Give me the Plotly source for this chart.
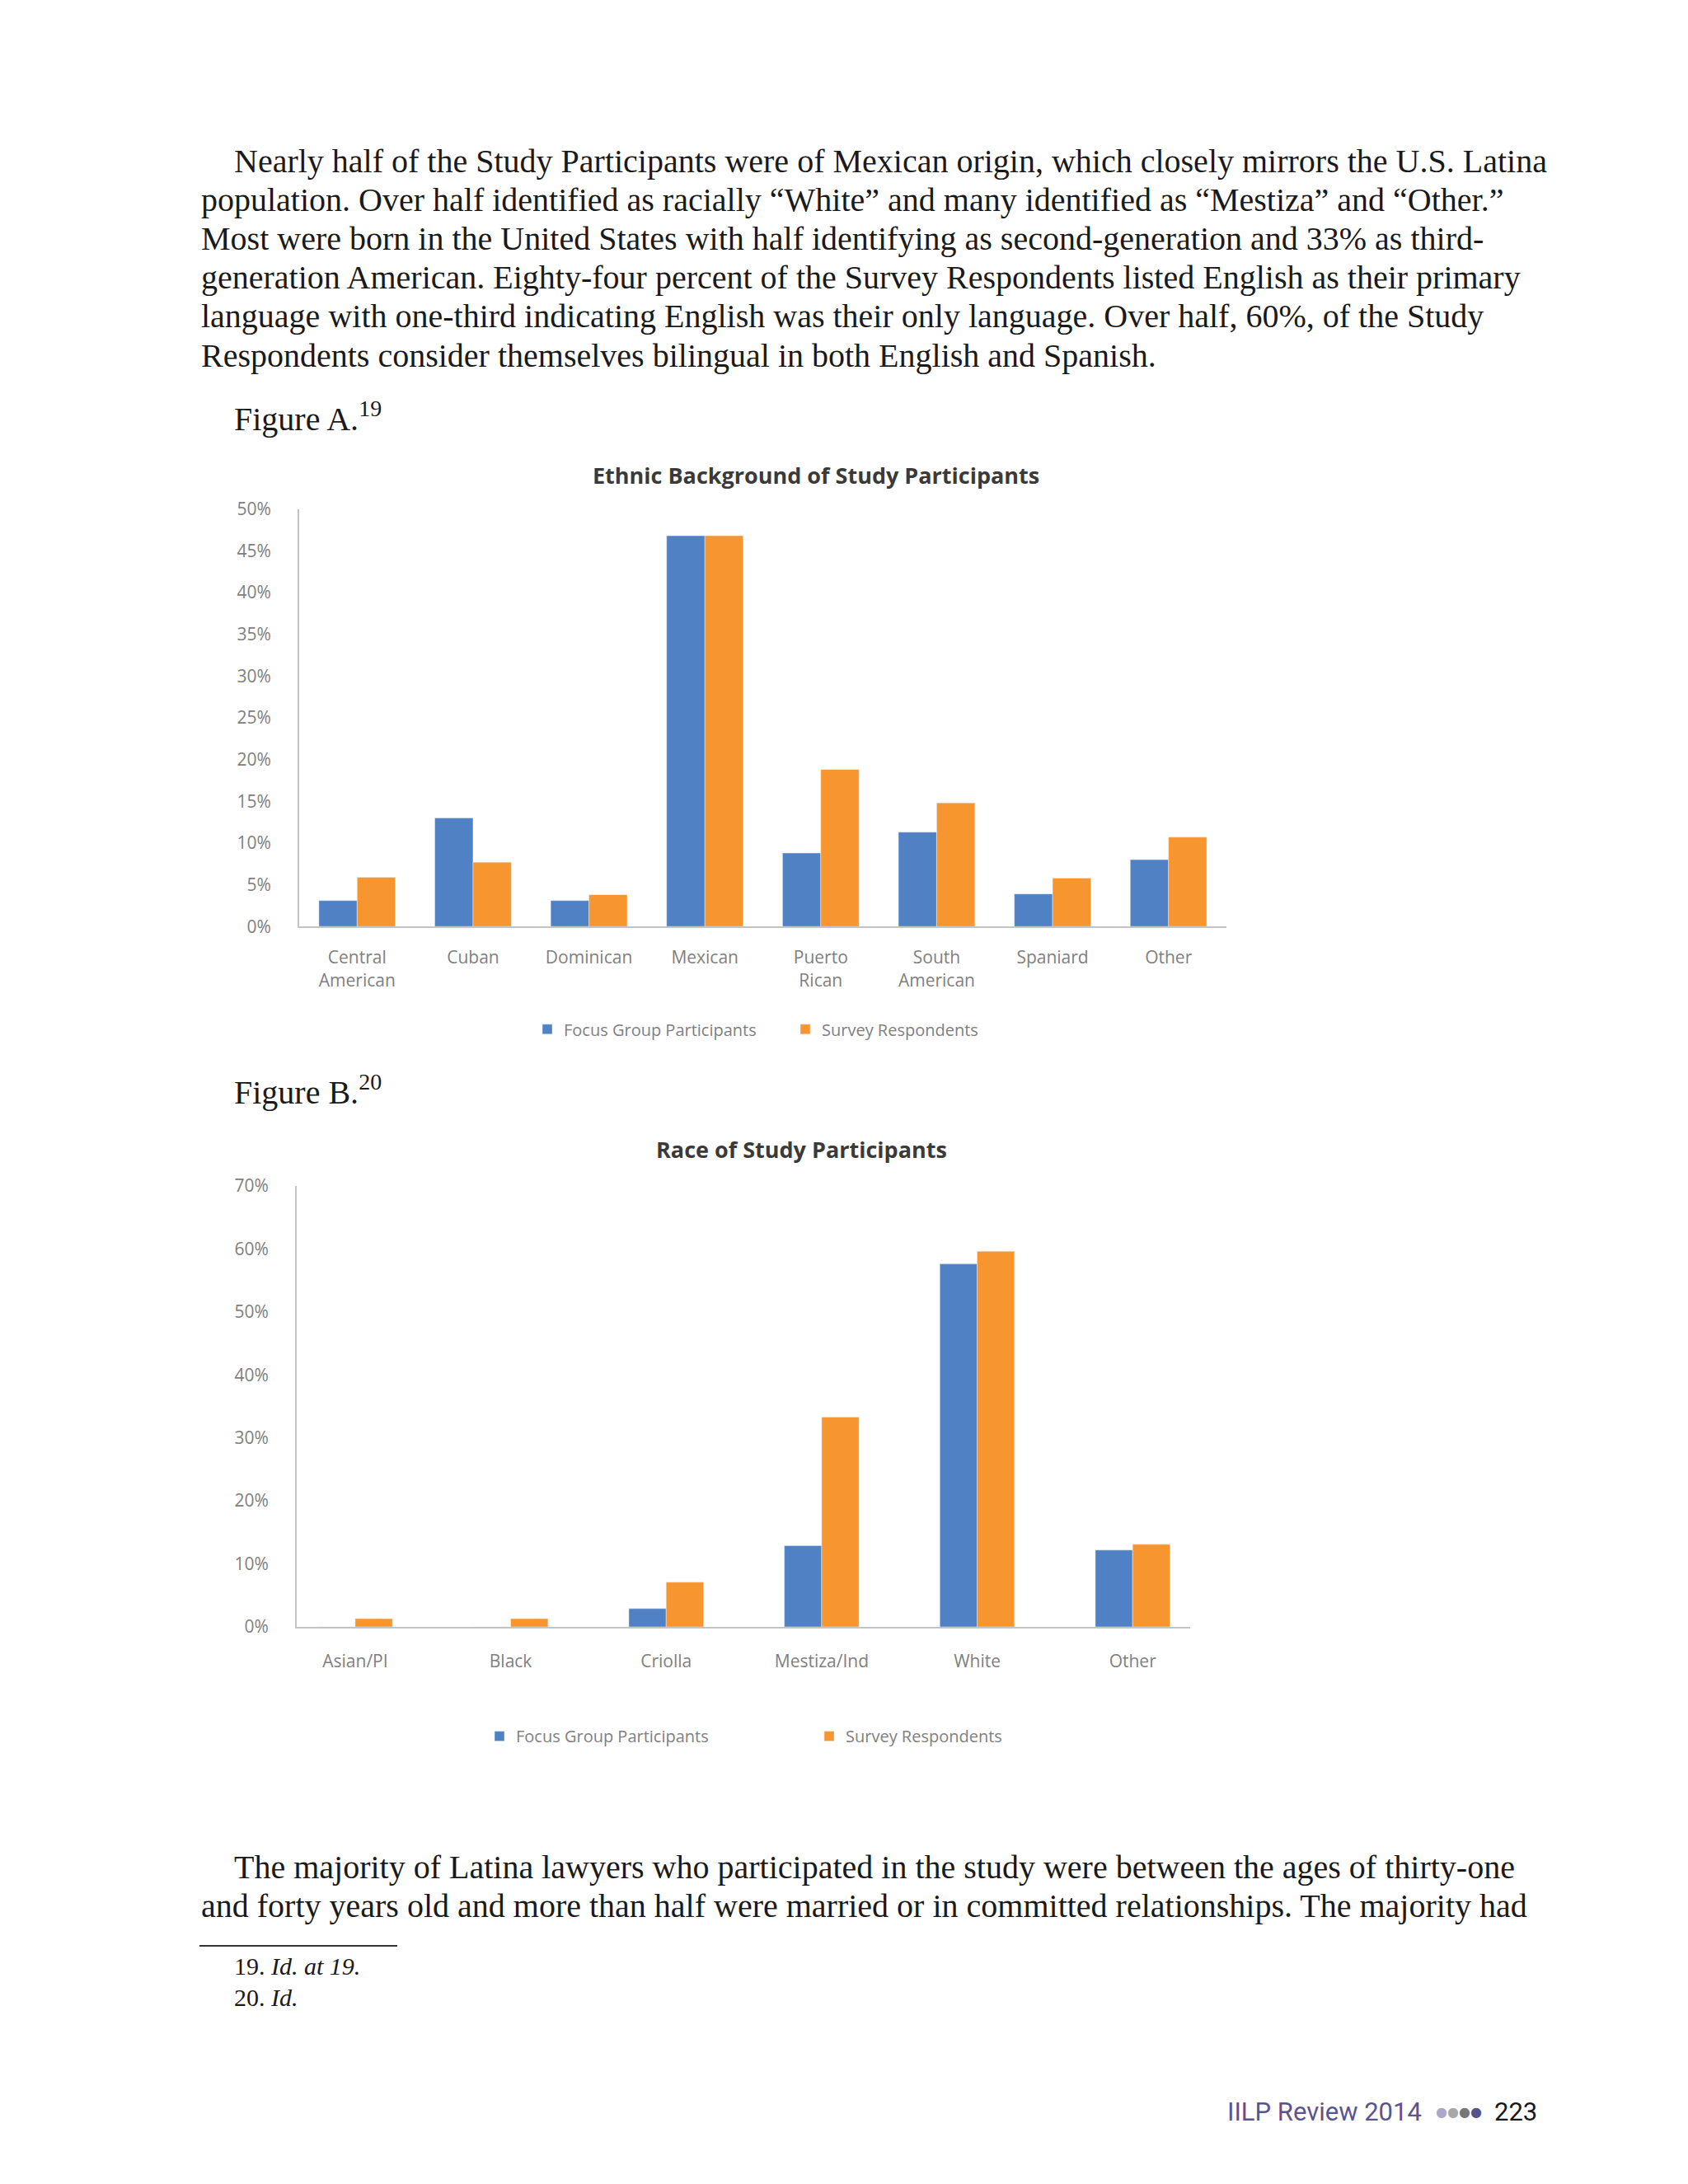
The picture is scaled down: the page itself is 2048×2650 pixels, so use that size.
import plotly.graph_objects as go

# page size (reference) and figure size (page minus the 8px default body margin on each side)
PAGE_W, PAGE_H = 2048, 2650
OFF = 8
W, H = PAGE_W - 2 * OFF, PAGE_H - 2 * OFF

# ---------------- data ----------------
eth_categories = ["Central<br>American", "Cuban", "Dominican", "Mexican", "Puerto<br>Rican",
                  "South<br>American", "Spaniard", "Other"]
eth_focus = [3.1, 13.0, 3.1, 46.8, 8.8, 11.3, 3.9, 8.0]
eth_survey = [5.9, 7.7, 3.8, 46.8, 18.8, 14.8, 5.8, 10.7]

race_categories = ["Asian/PI", "Black", "Criolla", "Mestiza/Ind", "White", "Other"]
race_focus = [0.0, 0.0, 2.9, 12.9, 57.6, 12.2]
race_survey = [1.3, 1.3, 7.1, 33.3, 59.6, 13.1]

eth_ticks = [0, 5, 10, 15, 20, 25, 30, 35, 40, 45, 50]
eth_ticktext = [f"{v}%" for v in eth_ticks]
race_ticks = [0, 10, 20, 30, 40, 50, 60, 70]
race_ticktext = [f"{v}%" for v in race_ticks]

series_names = ["Focus Group Participants", "Survey Respondents"]

para1 = [
    "Nearly half of the Study Participants were of Mexican origin, which closely mirrors the U.S. Latina",
    "population. Over half identified as racially \u201cWhite\u201d and many identified as \u201cMestiza\u201d and \u201cOther.\u201d",
    "Most were born in the United States with half identifying as second-generation and 33% as third-",
    "generation American. Eighty-four percent of the Survey Respondents listed English as their primary",
    "language with one-third indicating English was their only language. Over half, 60%, of the Study",
    "Respondents consider themselves bilingual in both English and Spanish.",
]
para2 = [
    "The majority of Latina lawyers who participated in the study were between the ages of thirty-one",
    "and forty years old and more than half were married or in committed relationships. The majority had",
]

BLUE = "#4f81c4"
ORANGE = "#f7952f"
AXIS_GRAY = "#c4c4c4"
TICK_GRAY = "#808080"
SANS = "Open Sans"
SERIF = "Liberation Serif"


def px_x(x):
    return (x - OFF) / W


def px_y(y):
    return 1 - (y - OFF) / H


fig = go.Figure()

# Chart A
fig.add_trace(go.Bar(x=list(range(len(eth_categories))), y=eth_focus, name=series_names[0],
                     marker_color=BLUE, width=0.33, offset=-0.33, xaxis="x", yaxis="y",
                     legend="legend"))
fig.add_trace(go.Bar(x=list(range(len(eth_categories))), y=eth_survey, name=series_names[1],
                     marker_color=ORANGE, width=0.33, offset=0.0, xaxis="x", yaxis="y",
                     legend="legend"))
# Chart B
fig.add_trace(go.Bar(x=list(range(len(race_categories))), y=race_focus, name=series_names[0],
                     marker_color=BLUE, width=0.24, offset=-0.24, xaxis="x2", yaxis="y2",
                     legend="legend2"))
fig.add_trace(go.Bar(x=list(range(len(race_categories))), y=race_survey, name=series_names[1],
                     marker_color=ORANGE, width=0.24, offset=0.0, xaxis="x2", yaxis="y2",
                     legend="legend2"))

tickfont = dict(family=SANS, size=21, color=TICK_GRAY)
legfont = dict(family=SANS, size=20, color=TICK_GRAY)

fig.update_layout(
    width=W, height=H,
    margin=dict(l=0, r=0, t=0, b=0),
    paper_bgcolor="white", plot_bgcolor="white",
    barmode="overlay",
    xaxis=dict(domain=[px_x(363), px_x(1488)], anchor="y", range=[-0.5, 7.5],
               tickmode="array", tickvals=list(range(len(eth_categories))), ticktext=eth_categories,
               showgrid=False, zeroline=False, showline=True, linecolor=AXIS_GRAY, linewidth=2,
               ticks="", tickfont=tickfont, ticklabelstandoff=18, fixedrange=True),
    yaxis=dict(domain=[px_y(1121), px_y(609)], anchor="x", range=[0, 50],
               tickmode="array", tickvals=eth_ticks, ticktext=eth_ticktext,
               showgrid=False, zeroline=False, showline=True, linecolor=AXIS_GRAY, linewidth=2,
               ticks="", tickfont=tickfont, ticklabelstandoff=28),
    xaxis2=dict(domain=[px_x(360), px_x(1444)], anchor="y2", range=[-0.376, 5.37],
                tickmode="array", tickvals=list(range(len(race_categories))), ticktext=race_categories,
                showgrid=False, zeroline=False, showline=True, linecolor=AXIS_GRAY, linewidth=2,
                ticks="", tickfont=tickfont, ticklabelstandoff=22),
    yaxis2=dict(domain=[px_y(1980), px_y(1439)], anchor="x2", range=[0, 70],
                tickmode="array", tickvals=race_ticks, ticktext=race_ticktext,
                showgrid=False, zeroline=False, showline=True, linecolor=AXIS_GRAY, linewidth=2,
                ticks="", tickfont=tickfont, ticklabelstandoff=28),
    legend=dict(orientation="h", x=px_x(644), y=px_y(1247), xanchor="left", yanchor="middle",
                font=legfont, entrywidth=268, entrywidthmode="pixels", bgcolor="rgba(0,0,0,0)",
                itemclick=False, itemdoubleclick=False),
    legend2=dict(orientation="h", x=px_x(586), y=px_y(2114), xanchor="left", yanchor="middle",
                 font=legfont, entrywidth=355, entrywidthmode="pixels", bgcolor="rgba(0,0,0,0)",
                 itemclick=False, itemdoubleclick=False),
)

annotations = []


def text(x, y, s, size=40, family=SERIF, color="#1a1a1a", xanchor="left", weight="normal"):
    annotations.append(dict(x=px_x(x), y=px_y(y), xref="paper", yref="paper", text=s,
                            showarrow=False, xanchor=xanchor, yanchor="middle",
                            font=dict(family=family, size=size, color=color, weight=weight)))


# paragraph 1
p1_y = [182, 230, 277, 325, 372, 421]
for i, (line, y) in enumerate(zip(para1, p1_y)):
    text(282 if i == 0 else 242, y, line)

text(282, 496, "Figure A.<sup>19</sup>")
text(282, 1321, "Figure B.<sup>20</sup>")

# chart titles
text(990, 567, "Ethnic Background of Study Participants", size=27, family=SANS,
     color="#3a3a3a", xanchor="center", weight="bold")
text(972, 1394, "Race of Study Participants", size=27, family=SANS,
     color="#3a3a3a", xanchor="center", weight="bold")

# paragraph 2
p2_y = [2275, 2322]
for i, (line, y) in enumerate(zip(para2, p2_y)):
    text(282 if i == 0 else 242, y, line)

# footnotes
text(282, 2396, "19. <i>Id. at 19.</i>", size=30)
text(282, 2434, "20. <i>Id.</i>", size=30)

# footer
text(1727, 2575, "IILP Review 2014", size=31, family="Roboto", color="#5a5590", xanchor="right")
text(1770, 2575,
     "<span style='color:#aaa7cc'>\u25cf</span><span style='color:#a8a8a8'>\u25cf</span>"
     "<span style='color:#777777'>\u25cf</span><span style='color:#57528c'>\u25cf</span>",
     size=16, family="DejaVu Sans", xanchor="center")
text(1867, 2575, "223", size=31, family="Roboto", color="#1a1a1a", xanchor="right")

fig.update_layout(annotations=annotations)

# footnote rule
fig.add_shape(type="line", xref="paper", yref="paper", x0=px_x(242), x1=px_x(482),
              y0=px_y(2371), y1=px_y(2371), line=dict(color="#333333", width=2))

fig.write_html("out.html", config={"displayModeBar": False})
